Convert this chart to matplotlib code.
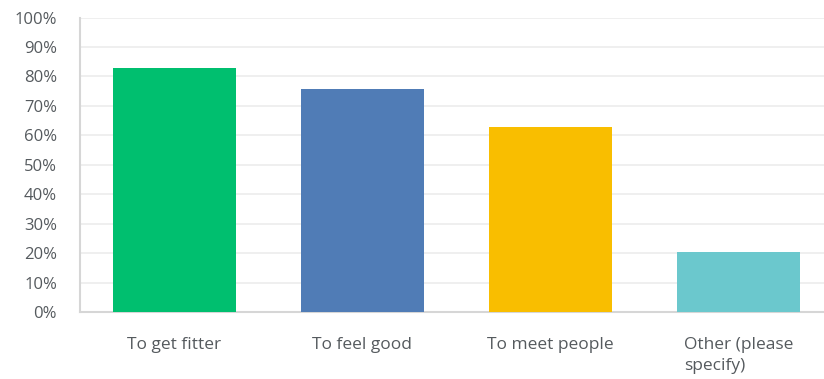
import matplotlib
matplotlib.use("Agg")
import matplotlib.pyplot as plt
from matplotlib.ticker import FuncFormatter, MultipleLocator

categories = ["To get fitter", "To feel good", "To meet people", "Other (please\nspecify)"]
values = [82.9, 75.9, 62.8, 20.4]
colors = ["#00BF6F", "#507CB6", "#F9BE00", "#6BC8CD"]

plt.rcParams["font.family"] = ["Open Sans", "DejaVu Sans"]

fig = plt.figure(figsize=(8.24, 3.79), dpi=100)
ax = fig.add_axes([80 / 824, (379 - 312.3) / 379, 1 - 80 / 824, (312.3 - 17.5) / 379])

x = range(len(categories))
ax.bar(x, values, width=0.654, color=colors, zorder=3)

ax.set_ylim(0, 100)
ax.set_xlim(-0.5, 3.452)
ax.yaxis.set_major_locator(MultipleLocator(10))
ax.yaxis.set_major_formatter(FuncFormatter(lambda v, _: f"{int(v)}%"))
ax.grid(axis="y", color="#ececec", linewidth=1.2, zorder=0)

for side in ("top", "right"):
    ax.spines[side].set_visible(False)
for side in ("left", "bottom"):
    ax.spines[side].set_color("#d6d6d6")
    ax.spines[side].set_linewidth(1.5)

ax.tick_params(axis="y", length=0, pad=16.5, labelsize=12, labelcolor="#555a5e")
ax.tick_params(axis="x", length=0, pad=17.5, labelsize=12.5, labelcolor="#555a5e")
ax.set_xticks(list(x))
ax.set_xticklabels(categories, linespacing=1.45, multialignment="left", va="top")

fig.savefig("out.png", dpi=100)
